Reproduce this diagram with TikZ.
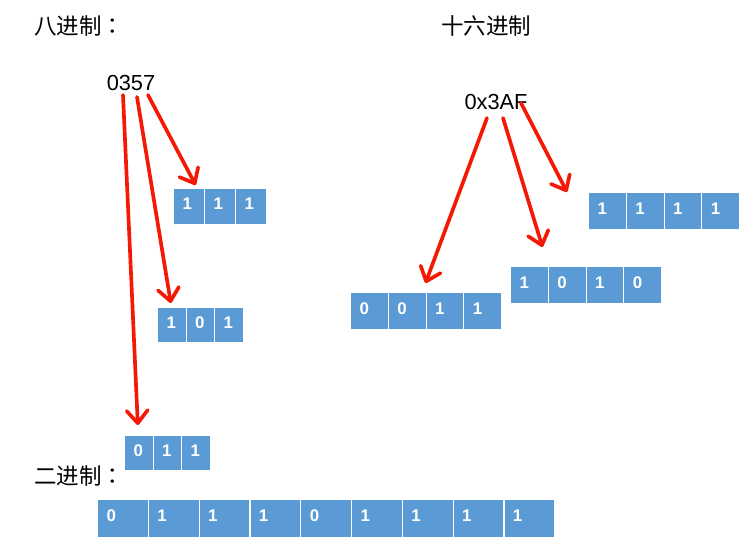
\documentclass[tikz,border=0pt]{standalone}
\usepackage{fontspec}
\setmainfont{Liberation Sans}
\newfontfamily\cjk{Noto Sans CJK SC}
\newfontfamily\cjktc{Noto Sans CJK TC}
\usetikzlibrary{arrows.meta,calc}
\definecolor{cellblue}{RGB}{91,155,213}
\definecolor{arrowred}{RGB}{245,25,5}
\tikzset{
	cell/.style={rectangle,anchor=north west,fill=cellblue,draw=white,line width=0.8pt,
		text=white,font=\fontsize{12}{12}\selectfont\bfseries,align=left,
		inner xsep=0.225cm,inner ysep=0pt,text depth=4pt},
	lbl/.style={inner sep=0pt,font=\fontsize{15.5}{16}\selectfont},
	cjklbl/.style={inner sep=0pt,anchor=west,font=\cjk\fontsize{16}{16}\selectfont},
	arr/.style={draw=arrowred,line width=2.6pt,line cap=round,
		-{Straight Barb[length=9pt,width=15pt,line cap=round,round]}}
}
\begin{document}
\begin{tikzpicture}[x=0.025cm,y=-0.025cm]
	\useasboundingbox (0,0) rectangle (754,556);
	\node[cjklbl] (octname) at (34,26) {八进制{\cjktc ：}};
	\node[cjklbl] (hexname) at (441,26) {十六进制};
	\node[cjklbl] (binname) at (34,476) {二进制{\cjktc ：}};
	\node[lbl] (oct) at (131,83) {0357};
	\node[lbl] (hex) at (496,102) {0x3AF};
	% octal digits
	\foreach \b [count=\i] in {1,1,1}
		\node[cell,minimum width=0.775cm,text width=0.325cm,minimum height=0.9cm] (o7-\i) at ({173+31*(\i-1)},188) {\b};
	\foreach \b [count=\i] in {1,0,1}
		\node[cell,minimum width=0.7125cm,text width=0.2625cm,minimum height=0.875cm] (o5-\i) at ({157+28.5*(\i-1)},307) {\b};
	\foreach \b [count=\i] in {0,1,1}
		\node[cell,minimum width=0.7125cm,text width=0.2625cm,minimum height=0.875cm] (o3-\i) at ({124+28.5*(\i-1)},435) {\b};
	% hex digits
	\foreach \b [count=\i] in {0,0,1,1}
		\node[cell,minimum width=0.944cm,text width=0.494cm,minimum height=0.925cm] (x3-\i) at ({350+37.75*(\i-1)},292) {\b};
	\foreach \b [count=\i] in {1,0,1,0}
		\node[cell,minimum width=0.944cm,text width=0.494cm,minimum height=0.925cm] (xA-\i) at ({510+37.75*(\i-1)},266) {\b};
	\foreach \b [count=\i] in {1,1,1,1}
		\node[cell,minimum width=0.944cm,text width=0.494cm,minimum height=0.925cm] (xF-\i) at ({588+37.75*(\i-1)},192) {\b};
	% binary
	\foreach \b [count=\i] in {0,1,1,1,0,1,1,1,1}
		\node[cell,minimum width=1.27cm,text width=0.82cm,minimum height=0.95cm] (bin-\i) at ({97+50.8*(\i-1)},499) {\b};
	\draw[arr] ($(oct.center)+(17,12)$) -- ($(o7-1.north)+(6.5,-3)$);
	\draw[arr] ($(oct.center)+(6,14)$) -- ($(o5-1.north)+(-1,-4)$);
	\draw[arr] ($(oct.center)+(-8,12)$) -- ($(o3-1.north)+(-1,-10)$);
	\draw[arr] ($(hex.center)+(-9,16)$) -- ($(x3-3.north west)+(0,-9)$);
	\draw[arr] ($(hex.center)+(7,16)$) -- ($(xA-1.north)+(13,-19)$);
	\draw[arr] ($(hex.center)+(25,1)$) -- ($(xF-1.north west)+(-21,0)$);
\end{tikzpicture}
\end{document}
